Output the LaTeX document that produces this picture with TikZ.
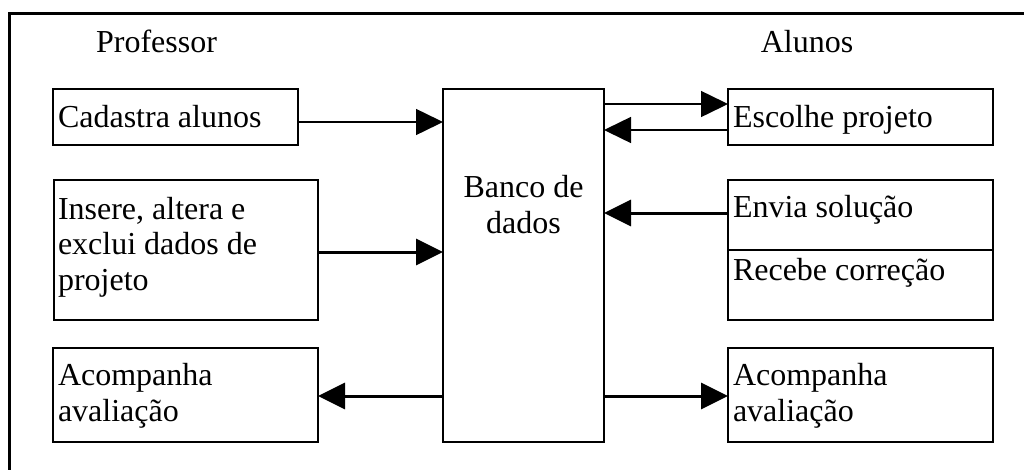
\documentclass[tikz,border=0pt]{standalone}
\usepackage{fontspec}
\setmainfont{Liberation Serif}
\usetikzlibrary{arrows.meta}
\begin{document}
\begin{tikzpicture}[x=1pt,y=-1pt,
  box/.style={draw,line width=1.5pt,rectangle,inner sep=0pt,outer sep=0pt,anchor=north west},
  txt/.style={inner sep=0pt,outer sep=0pt,anchor=base west,align=left,
    font=\fontsize{32pt}{35.5pt}\selectfont},
  thin/.style={line width=1.5pt,-{Triangle[length=27pt,width=26pt]}},
  thick/.style={line width=3pt,-{Triangle[length=27pt,width=26pt]}}]
\useasboundingbox (0,0) rectangle (1024,469);
% outer frame (cropped)
\draw[line width=3pt] (9,470) -- (9,13) -- (1025,13);
% headings
\node[txt,anchor=base] (prof) at (156.5,52) {Professor};
\node[txt,anchor=base] (alun) at (807,52) {Alunos};
% boxes
\node[box,minimum width=245pt,minimum height=56pt] (cad) at (53,89) {};
\node[box,minimum width=264pt,minimum height=140pt] (ins) at (54,180) {};
\node[box,minimum width=265pt,minimum height=94pt] (acl) at (53,348) {};
\node[box,minimum width=161pt,minimum height=353pt] (db) at (443,89) {};
\node[box,minimum width=265pt,minimum height=56pt] (esc) at (728,89) {};
\node[box,minimum width=265pt,minimum height=140pt] (env) at (728,180) {};
\node[box,minimum width=265pt,minimum height=94pt] (acr) at (728,348) {};
\draw[line width=1.5pt] (env.west) -- (env.east);
% texts (base anchor of a multi-line node = last line's baseline)
\node[txt] (tcad) at (58,127) {Cadastra alunos};
\node[txt] (tins) at (58,290) {Insere, altera e\\exclui dados de\\projeto};
\node[txt] (tacl) at (58,421) {Acompanha\\avaliação};
\node[txt,anchor=base,align=center] (tdb) at (523.5,233) {Banco de\\dados};
\node[txt] (tesc) at (733,127) {Escolhe projeto};
\node[txt] (tenv) at (733,217) {Envia solução};
\node[txt] (trec) at (733,280) {Recebe correção};
\node[txt] (tacr) at (733,421) {Acompanha\\avaliação};
% connectors
\draw[thin] ([yshift=-5pt]cad.east) -- ([yshift=-5pt]cad.east -| db.west);
\draw[thick] ([yshift=-2pt]ins.east) -- ([yshift=-2pt]ins.east -| db.west);
\draw[thick] ([yshift=-1pt]db.west |- acl.east) -- ([yshift=-1pt]acl.east);
\draw[thin] ([yshift=13pt]esc.west -| db.east) -- ([yshift=13pt]esc.west);
\draw[thin] ([yshift=-13pt]esc.west) -- ([yshift=-13pt]esc.west -| db.east);
\draw[thick] ([yshift=37pt]env.west) -- ([yshift=37pt]env.west -| db.east);
\draw[thick] ([yshift=-1pt]db.east |- acr.west) -- ([yshift=-1pt]acr.west);
\end{tikzpicture}
\end{document}
